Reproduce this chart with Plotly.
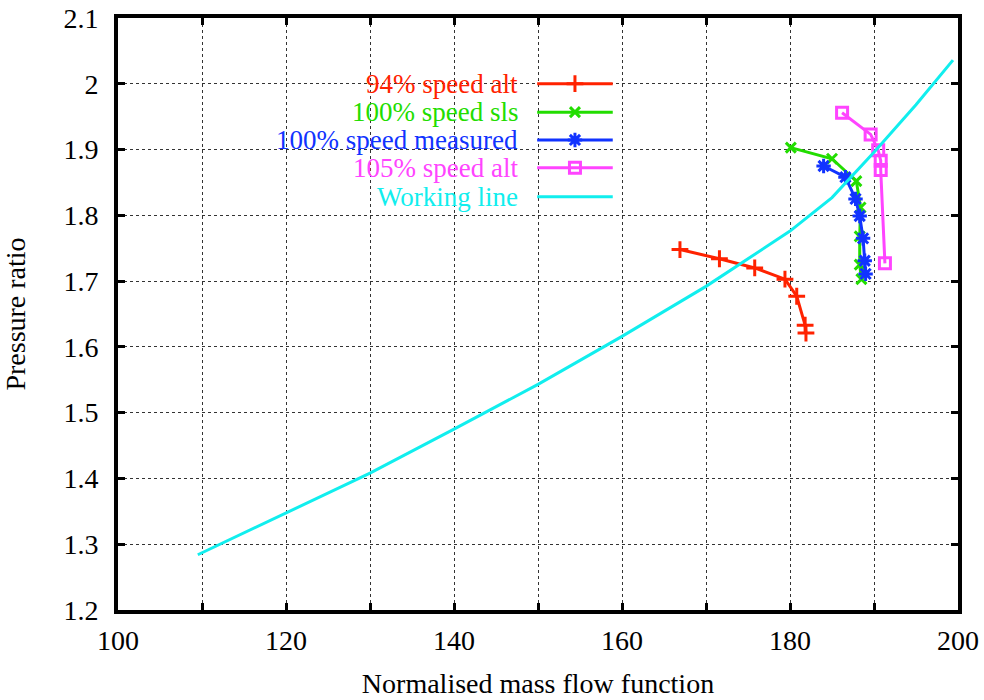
import plotly.graph_objects as go

# ---- data ----
red_x = [166.9, 171.6, 175.8, 179.4, 180.8, 181.8, 181.9]
red_y = [1.748, 1.734, 1.720, 1.703, 1.677, 1.633, 1.621]

green_x = [180.1, 185.0, 187.9, 188.4, 188.3, 188.3, 188.5]
green_y = [1.903, 1.886, 1.852, 1.812, 1.768, 1.725, 1.703]

blue_x = [184.0, 186.6, 187.8, 188.3, 188.7, 188.9, 189.0]
blue_y = [1.875, 1.858, 1.825, 1.799, 1.765, 1.731, 1.711]

mag_x = [186.2, 189.6, 190.5, 190.8, 190.8, 191.3]
mag_y = [1.956, 1.923, 1.899, 1.883, 1.869, 1.727]

wl_x = [109.5, 120.0, 130.0, 140.0, 150.0, 160.0, 170.0, 180.0, 185.0, 190.0, 195.0, 199.4]
wl_y = [1.284, 1.347, 1.408, 1.475, 1.543, 1.616, 1.692, 1.776, 1.827, 1.896, 1.968, 2.036]

x_ticks = [100, 120, 140, 160, 180, 200]
x_minor = [110, 130, 150, 170, 190]
y_ticks = [1.2, 1.3, 1.4, 1.5, 1.6, 1.7, 1.8, 1.9, 2.0, 2.1]
y_tick_text = ["1.2", "1.3", "1.4", "1.5", "1.6", "1.7", "1.8", "1.9", "2", "2.1"]

series = [
    ("94% speed alt", red_x, red_y, "#ff2200", "cross-thin-open", 12),
    ("100% speed sls", green_x, green_y, "#22dd00", "x-thin-open", 10),
    ("100% speed measured", blue_x, blue_y, "#1133ff", "asterisk-open", 12),
    ("105% speed alt", mag_x, mag_y, "#ff44ff", "square-open", 11),
]
wl_name = "Working line"
wl_color = "#11eeee"

FONT = "Liberation Serif, Times New Roman, serif"
FS = 28

fig = go.Figure()

for name, xs, ys, col, sym, sz in series:
    fig.add_trace(go.Scatter(
        x=xs, y=ys, mode="lines+markers", name=name,
        line=dict(color=col, width=3),
        marker=dict(symbol=sym, size=sz, color=col, line=dict(color=col, width=3)),
        showlegend=False,
    ))
fig.add_trace(go.Scatter(
    x=wl_x, y=wl_y, mode="lines", name=wl_name,
    line=dict(color=wl_color, width=3), showlegend=False,
))

# ---- custom legend (text on left, sample on right) on overlay axis [0,1] ----
leg_rows = [0.889, 0.841, 0.794, 0.747, 0.698]
leg_x0, leg_x1, leg_xm, leg_tx = 0.499, 0.589, 0.544, 0.479
entries = [(s[0], s[3], s[4], s[5]) for s in series] + [(wl_name, wl_color, None, 0)]
for (name, col, sym, sz), yy in zip(entries, leg_rows):
    fig.add_trace(go.Scatter(
        x=[leg_x0, leg_x1], y=[yy, yy], xaxis="x2", yaxis="y2", mode="lines",
        line=dict(color=col, width=3), showlegend=False, hoverinfo="skip",
    ))
    if sym:
        fig.add_trace(go.Scatter(
            x=[leg_xm], y=[yy], xaxis="x2", yaxis="y2", mode="markers",
            marker=dict(symbol=sym, size=sz, color=col, line=dict(color=col, width=3)),
            showlegend=False, hoverinfo="skip",
        ))
    fig.add_annotation(
        x=leg_tx, y=yy, xref="paper", yref="paper", text=name, showarrow=False,
        xanchor="right", yanchor="middle", font=dict(family=FONT, size=27, color=col),
    )

axis_common = dict(
    showline=True, linewidth=4, linecolor="black", mirror="ticks",
    ticks="inside", ticklen=7, tickwidth=3, tickcolor="black",
    showgrid=True, gridcolor="#333333", gridwidth=1, griddash="dot",
    zeroline=False, tickfont=dict(family=FONT, size=FS, color="black"),
    automargin=False, ticklabeloverflow="allow",
)

fig.update_layout(
    width=984, height=700,
    margin=dict(l=118, r=26, t=18, b=90),
    paper_bgcolor="white", plot_bgcolor="white",
    font=dict(family=FONT, size=FS, color="black"),
    xaxis=dict(range=[100, 200], tickmode="array", tickvals=x_ticks,
               ticklabelstandoff=2,
               minor=dict(tickvals=x_minor, ticks="inside", ticklen=7, tickwidth=3,
                          tickcolor="black", showgrid=True, gridcolor="#333333",
                          gridwidth=1, griddash="dot"),
               title=dict(text="Normalised mass flow function", standoff=20,
                          font=dict(family=FONT, size=FS)),
               **axis_common),
    yaxis=dict(range=[1.2, 2.1], tickmode="array", tickvals=y_ticks, ticktext=y_tick_text,
               ticklabelstandoff=10,
               title=dict(text="Pressure ratio", standoff=44,
                          font=dict(family=FONT, size=FS)),
               **axis_common),
    xaxis2=dict(range=[0, 1], overlaying="x", visible=False, fixedrange=True),
    yaxis2=dict(range=[0, 1], overlaying="y", visible=False, fixedrange=True),
    showlegend=False,
)

fig.write_html("out.html", config={"displayModeBar": False},
               post_script="document.body.style.margin='0px';")
